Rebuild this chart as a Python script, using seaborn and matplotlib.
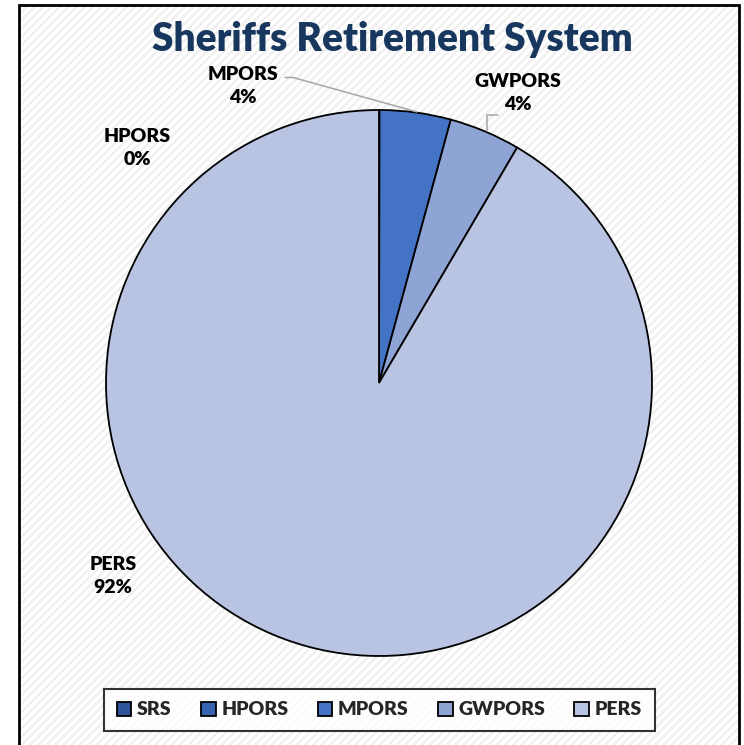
import numpy as np
import matplotlib
matplotlib.use("Agg")
import matplotlib.pyplot as plt
from matplotlib.patches import Rectangle
import seaborn as sns

# Share of members by retirement system (percent)
systems = ["SRS", "HPORS", "MPORS", "GWPORS", "PERS"]
shares = [0.0, 0.03, 4.2, 4.2, 91.4]
shown_labels = ["", "HPORS\n0%", "MPORS\n4%", "GWPORS\n4%", "PERS\n92%"]
colors = ["#2E5597", "#3763B0", "#4472C4", "#8EA4D4", "#B9C3E2"]

sns.set_theme(style="white")
plt.rcParams['font.family'] = ['Lato', 'DejaVu Sans']
plt.rcParams['hatch.linewidth'] = 1.6

fig = plt.figure(figsize=(7.44, 7.45), dpi=100)

# striped chart area + outer frame
bg = Rectangle((19 / 744, -0.01), 720 / 744, 1 - 5 / 745 + 0.01, transform=fig.transFigure,
               facecolor="white", edgecolor="#EFEFEF", hatch="////", lw=0, zorder=-10)
fig.patches.append(bg)
frame = Rectangle((19 / 744, -0.01), 720 / 744, 1 - 5 / 745 + 0.01, transform=fig.transFigure,
                  facecolor="none", edgecolor="black", lw=2, zorder=-9)
fig.patches.append(frame)

ax = fig.add_axes([379 / 744 - 273 / 744, (745 - 383) / 745 - 273 / 745, 546 / 744, 546 / 745])
ax.patch.set_alpha(0)
wedges, _ = ax.pie(shares, colors=colors, startangle=90, counterclock=False,
                   wedgeprops=dict(edgecolor="black", linewidth=1.3))
ax.set_xlim(-1, 1)
ax.set_ylim(-1, 1)
ax.axis("off")

lab_kw = dict(ha="center", va="center", fontsize=14, fontweight="heavy",
              color="black", linespacing=1.45)
ax.text(-0.886, 0.861, shown_labels[1], **lab_kw)
ax.text(-0.498, 1.088, shown_labels[2], **lab_kw)
ax.text(0.509, 1.062, shown_labels[3], **lab_kw)
ax.text(-0.974, -0.707, shown_labels[4], **lab_kw)

# leader lines
lc = "#A6A6A6"
ax.plot([-0.344, -0.315, 0.139], [1.119, 1.119, 0.993], color=lc, lw=1.1, clip_on=False)
ax.plot([0.394, 0.394, 0.436], [0.923, 0.982, 0.982], color=lc, lw=1.1, clip_on=False)

fig.text(0.527, 0.947, "Sheriffs Retirement System", ha="center", va="center",
         fontsize=28, fontweight="heavy", color="#17375E")

leg = ax.legend(wedges, systems, loc="center", bbox_to_anchor=(0.51, 0.047),
                bbox_transform=fig.transFigure, ncol=5, frameon=True, fancybox=False,
                edgecolor="black", handlelength=0.75, handleheight=0.75,
                handletextpad=0.3, columnspacing=1.5, borderpad=0.65,
                prop=dict(size=14, weight="heavy"))
leg.get_frame().set_linewidth(1.5)
leg.get_frame().set_facecolor("white")

fig.savefig("out.png", dpi=100)
